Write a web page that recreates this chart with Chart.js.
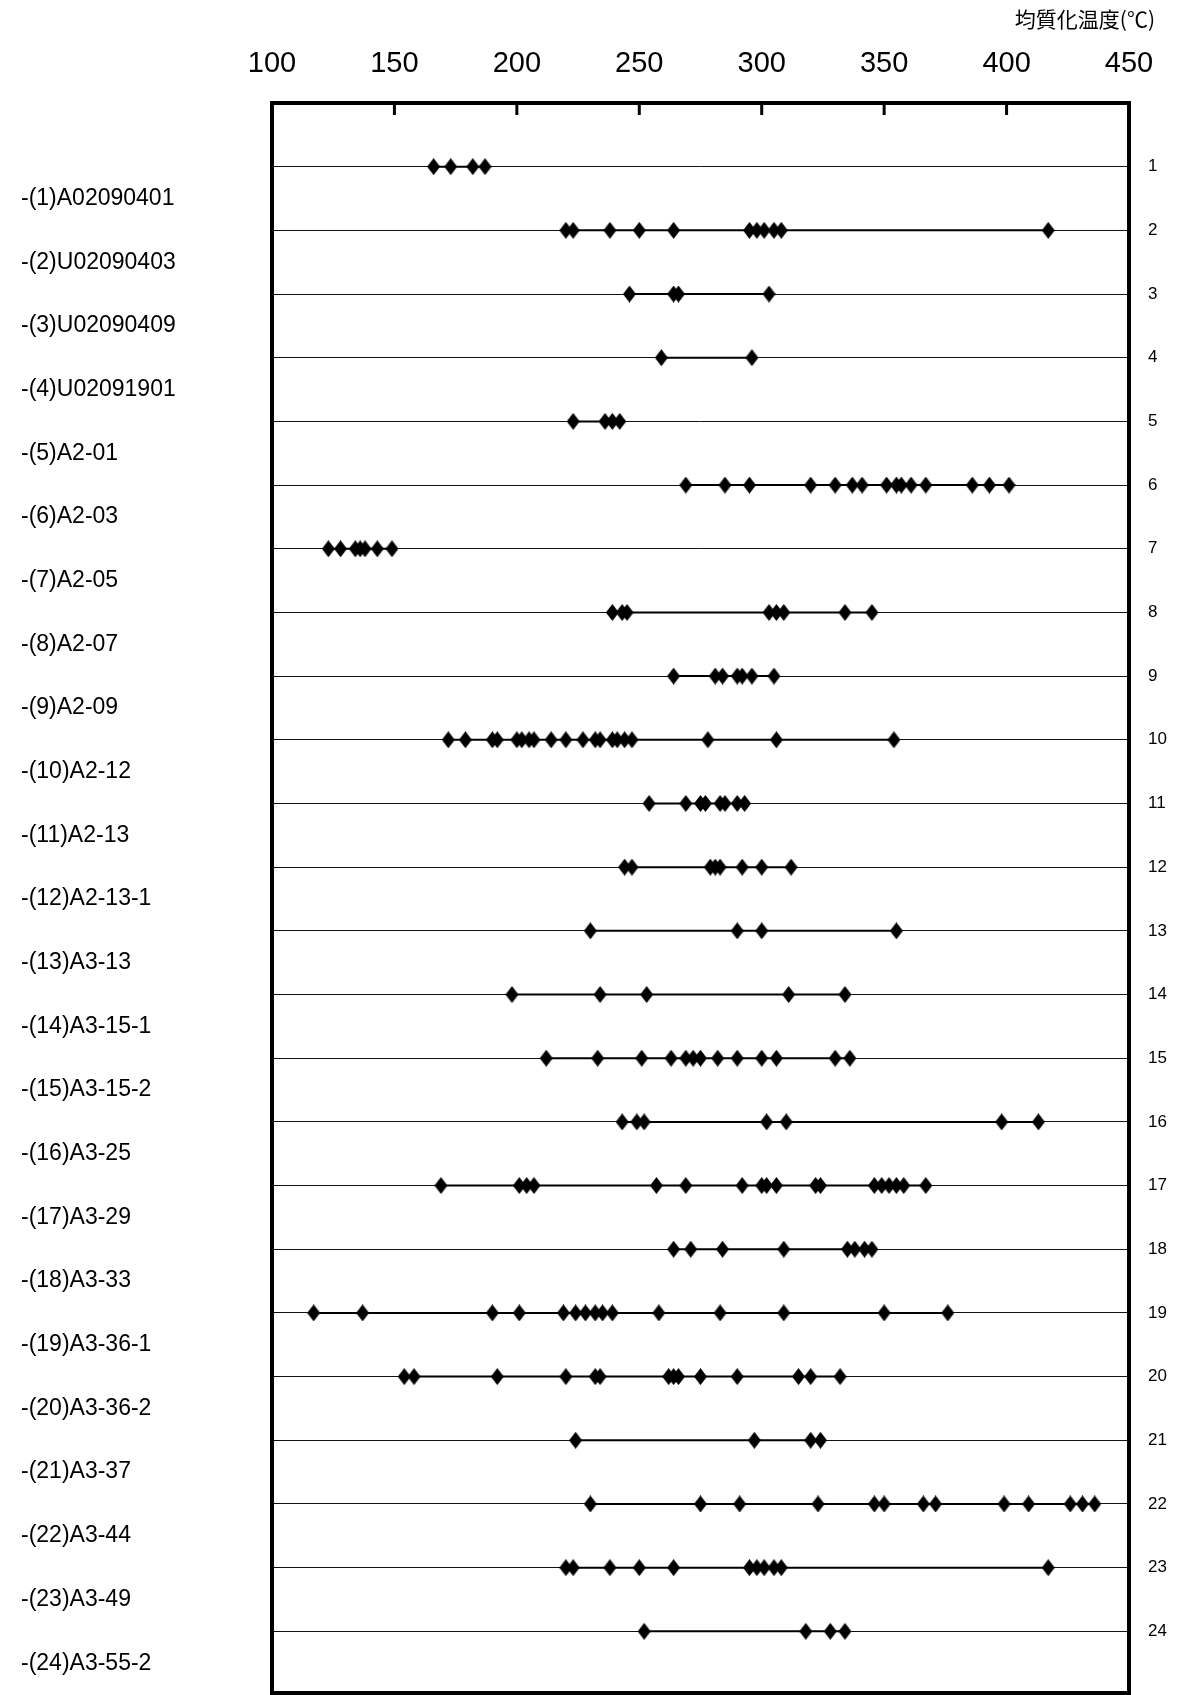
<!DOCTYPE html>
<html>
<head>
<meta charset="utf-8">
<title>均質化温度</title>
<script src="https://cdn.jsdelivr.net/npm/chart.js@4.4.0/dist/chart.umd.min.js"></script>
<style>
    html, body { margin: 0; padding: 0; background: #fff; overflow: hidden; }
    #contenedor { width: 1186px; height: 1701px; }
</style>
</head>
<body>
<div id="contenedor"><canvas id="grafica"></canvas></div>
<script>
/* ==================
    DATOS
================== */

// nombres de las muestras (eje izquierdo)
const muestras = [
    "(1)A02090401", "(2)U02090403", "(3)U02090409", "(4)U02091901",
    "(5)A2-01", "(6)A2-03", "(7)A2-05", "(8)A2-07",
    "(9)A2-09", "(10)A2-12", "(11)A2-13", "(12)A2-13-1",
    "(13)A3-13", "(14)A3-15-1", "(15)A3-15-2", "(16)A3-25",
    "(17)A3-29", "(18)A3-33", "(19)A3-36-1", "(20)A3-36-2",
    "(21)A3-37", "(22)A3-44", "(23)A3-49", "(24)A3-55-2"
];

// numeros de fila (eje derecho)
const filas = [1, 2, 3, 4, 5, 6, 7, 8, 9, 10, 11, 12, 13, 14, 15, 16, 17, 18, 19, 20, 21, 22, 23, 24];

// ticks del eje de temperatura
const ticksTemp = [100, 150, 200, 250, 300, 350, 400, 450];

const tituloEje = '均質化温度(℃)';

// temperaturas de homogeneizacion por muestra (°C)
const t01 = [166, 173, 182, 187];
const t02 = [220, 223, 238, 250, 264, 295, 298, 301, 305, 308, 417];
const t03 = [246, 264, 266, 303];
const t04 = [259, 296];
const t05 = [223, 236, 239, 242];
const t06 = [269, 285, 295, 320, 330, 337, 341, 351, 355, 357, 361, 367, 386, 393, 401];
const t07 = [123, 128, 134, 136, 138, 143, 149];
const t08 = [239, 243, 245, 303, 306, 309, 334, 345];
const t09 = [264, 281, 284, 290, 292, 296, 305];
const t10 = [172, 179, 190, 192, 200, 202, 205, 207, 214, 220, 227, 232, 234, 239, 241, 244, 247, 278, 306, 354];
const t11 = [254, 269, 275, 277, 283, 285, 290, 293];
const t12 = [244, 247, 279, 281, 283, 292, 300, 312];
const t13 = [230, 290, 300, 355];
const t14 = [198, 234, 253, 311, 334];
const t15 = [212, 233, 251, 263, 269, 272, 275, 282, 290, 300, 306, 330, 336];
const t16 = [243, 249, 252, 302, 310, 398, 413];
const t17 = [169, 201, 204, 207, 257, 269, 292, 300, 302, 306, 322, 324, 346, 349, 352, 355, 358, 367];
const t18 = [264, 271, 284, 309, 335, 338, 342, 345];
const t19 = [117, 137, 190, 201, 219, 224, 228, 232, 235, 239, 258, 283, 309, 350, 376];
const t20 = [154, 158, 192, 220, 232, 234, 262, 264, 266, 275, 290, 315, 320, 332];
const t21 = [224, 297, 320, 324];
const t22 = [230, 275, 291, 323, 346, 350, 366, 371, 399, 409, 426, 431, 436];
const t23 = [220, 223, 238, 250, 264, 295, 298, 301, 305, 308, 417];
const t24 = [252, 318, 328, 334];

const series = [t01, t02, t03, t04, t05, t06, t07, t08, t09, t10, t11, t12,
                t13, t14, t15, t16, t17, t18, t19, t20, t21, t22, t23, t24];

/* ==================
    MARCADOR ROMBO
================== */

const rombo = document.createElement('canvas');
rombo.width = 13;
rombo.height = 17;
const rc = rombo.getContext('2d');
rc.fillStyle = '#000';
rc.beginPath();
rc.moveTo(6.5, 0);
rc.lineTo(13, 8.5);
rc.lineTo(6.5, 17);
rc.lineTo(0, 8.5);
rc.closePath();
rc.fill();

/* ==================
    MARCO Y TICKS
================== */

// marco grueso, marcas hacia adentro en el eje superior y titulo del eje
const marco = {
    id: 'marco',
    afterDatasetsDraw(chart) {
        const { ctx, chartArea: a, scales } = chart;
        ctx.save();
        ctx.strokeStyle = '#000';
        ctx.lineWidth = 3;
        ticksTemp.slice(1, -1).forEach(v => {
            const x = scales.x.getPixelForValue(v);
            ctx.beginPath();
            ctx.moveTo(x, a.top);
            ctx.lineTo(x, a.top + 12);
            ctx.stroke();
        });
        // el borde inferior queda justo al final de la ventana
        const abajo = Math.min(a.bottom, 1693);
        ctx.lineWidth = 4;
        ctx.strokeRect(a.left, a.top, a.right - a.left, abajo - a.top);

        ctx.fillStyle = '#000';
        ctx.font = "21px 'Noto Sans CJK JP', sans-serif";
        ctx.textAlign = 'right';
        ctx.textBaseline = 'middle';
        ctx.fillText(tituloEje, a.right + 26, 19);
        ctx.restore();
    }
};

// sin relleno extra arriba/abajo por las etiquetas de los ejes verticales
const sinRelleno = axis => {
    axis.paddingTop = 0;
    axis.paddingBottom = 0;
};

/* ==================
    GRAFICA
================== */

const ctx = document.getElementById('grafica').getContext('2d');
new Chart(ctx, {
    type: 'scatter',
    data: {
        datasets: series.map((vals, i) => ({
            label: muestras[i],
            data: vals.map(v => ({ x: v, y: filas[i] })),
            showLine: true,
            borderColor: '#000',
            borderWidth: 2,
            pointStyle: rombo,
            yAxisID: 'y'
        }))
    },
    options: {
        responsive: true,
        maintainAspectRatio: false,
        animation: false,
        layout: { padding: { left: 21, right: 0, top: 43, bottom: 0 } },
        plugins: {
            legend: { display: false },
            tooltip: { enabled: false }
        },
        scales: {
            x: {
                type: 'linear',
                position: 'top',
                min: 100,
                max: 450,
                afterBuildTicks: axis => { axis.ticks = ticksTemp.map(v => ({ value: v })); },
                afterFit: axis => { axis.height = 60; },
                ticks: {
                    color: '#000',
                    padding: 22,
                    maxRotation: 0,
                    font: { family: "'Liberation Sans Narrow', 'Liberation Sans', sans-serif", size: 29 }
                },
                grid: { display: false, drawTicks: false },
                border: { display: false }
            },
            y: {
                type: 'linear',
                position: 'right',
                reverse: true,
                min: 0,
                max: 25,
                afterBuildTicks: axis => { axis.ticks = filas.map(v => ({ value: v })); },
                afterFit: axis => { axis.width = 57; sinRelleno(axis); },
                ticks: {
                    color: '#000',
                    padding: 19,
                    font: { family: "'Liberation Sans', sans-serif", size: 17 }
                },
                grid: { color: '#111', lineWidth: 1, drawTicks: false },
                border: { display: false }
            },
            yIzq: {
                type: 'linear',
                position: 'left',
                reverse: true,
                min: 0,
                max: 25,
                afterBuildTicks: axis => { axis.ticks = filas.map(v => ({ value: v + 0.5 })); },
                afterFit: axis => { axis.width = 251; sinRelleno(axis); },
                ticks: {
                    color: '#000',
                    crossAlign: 'far',
                    padding: 0,
                    callback: v => '-' + muestras[Math.round(v - 0.5) - 1],
                    font: { family: "'Liberation Sans', sans-serif", size: 23 }
                },
                grid: { display: false, drawTicks: false },
                border: { display: false }
            }
        }
    },
    plugins: [marco]
});
</script>
</body>
</html>
